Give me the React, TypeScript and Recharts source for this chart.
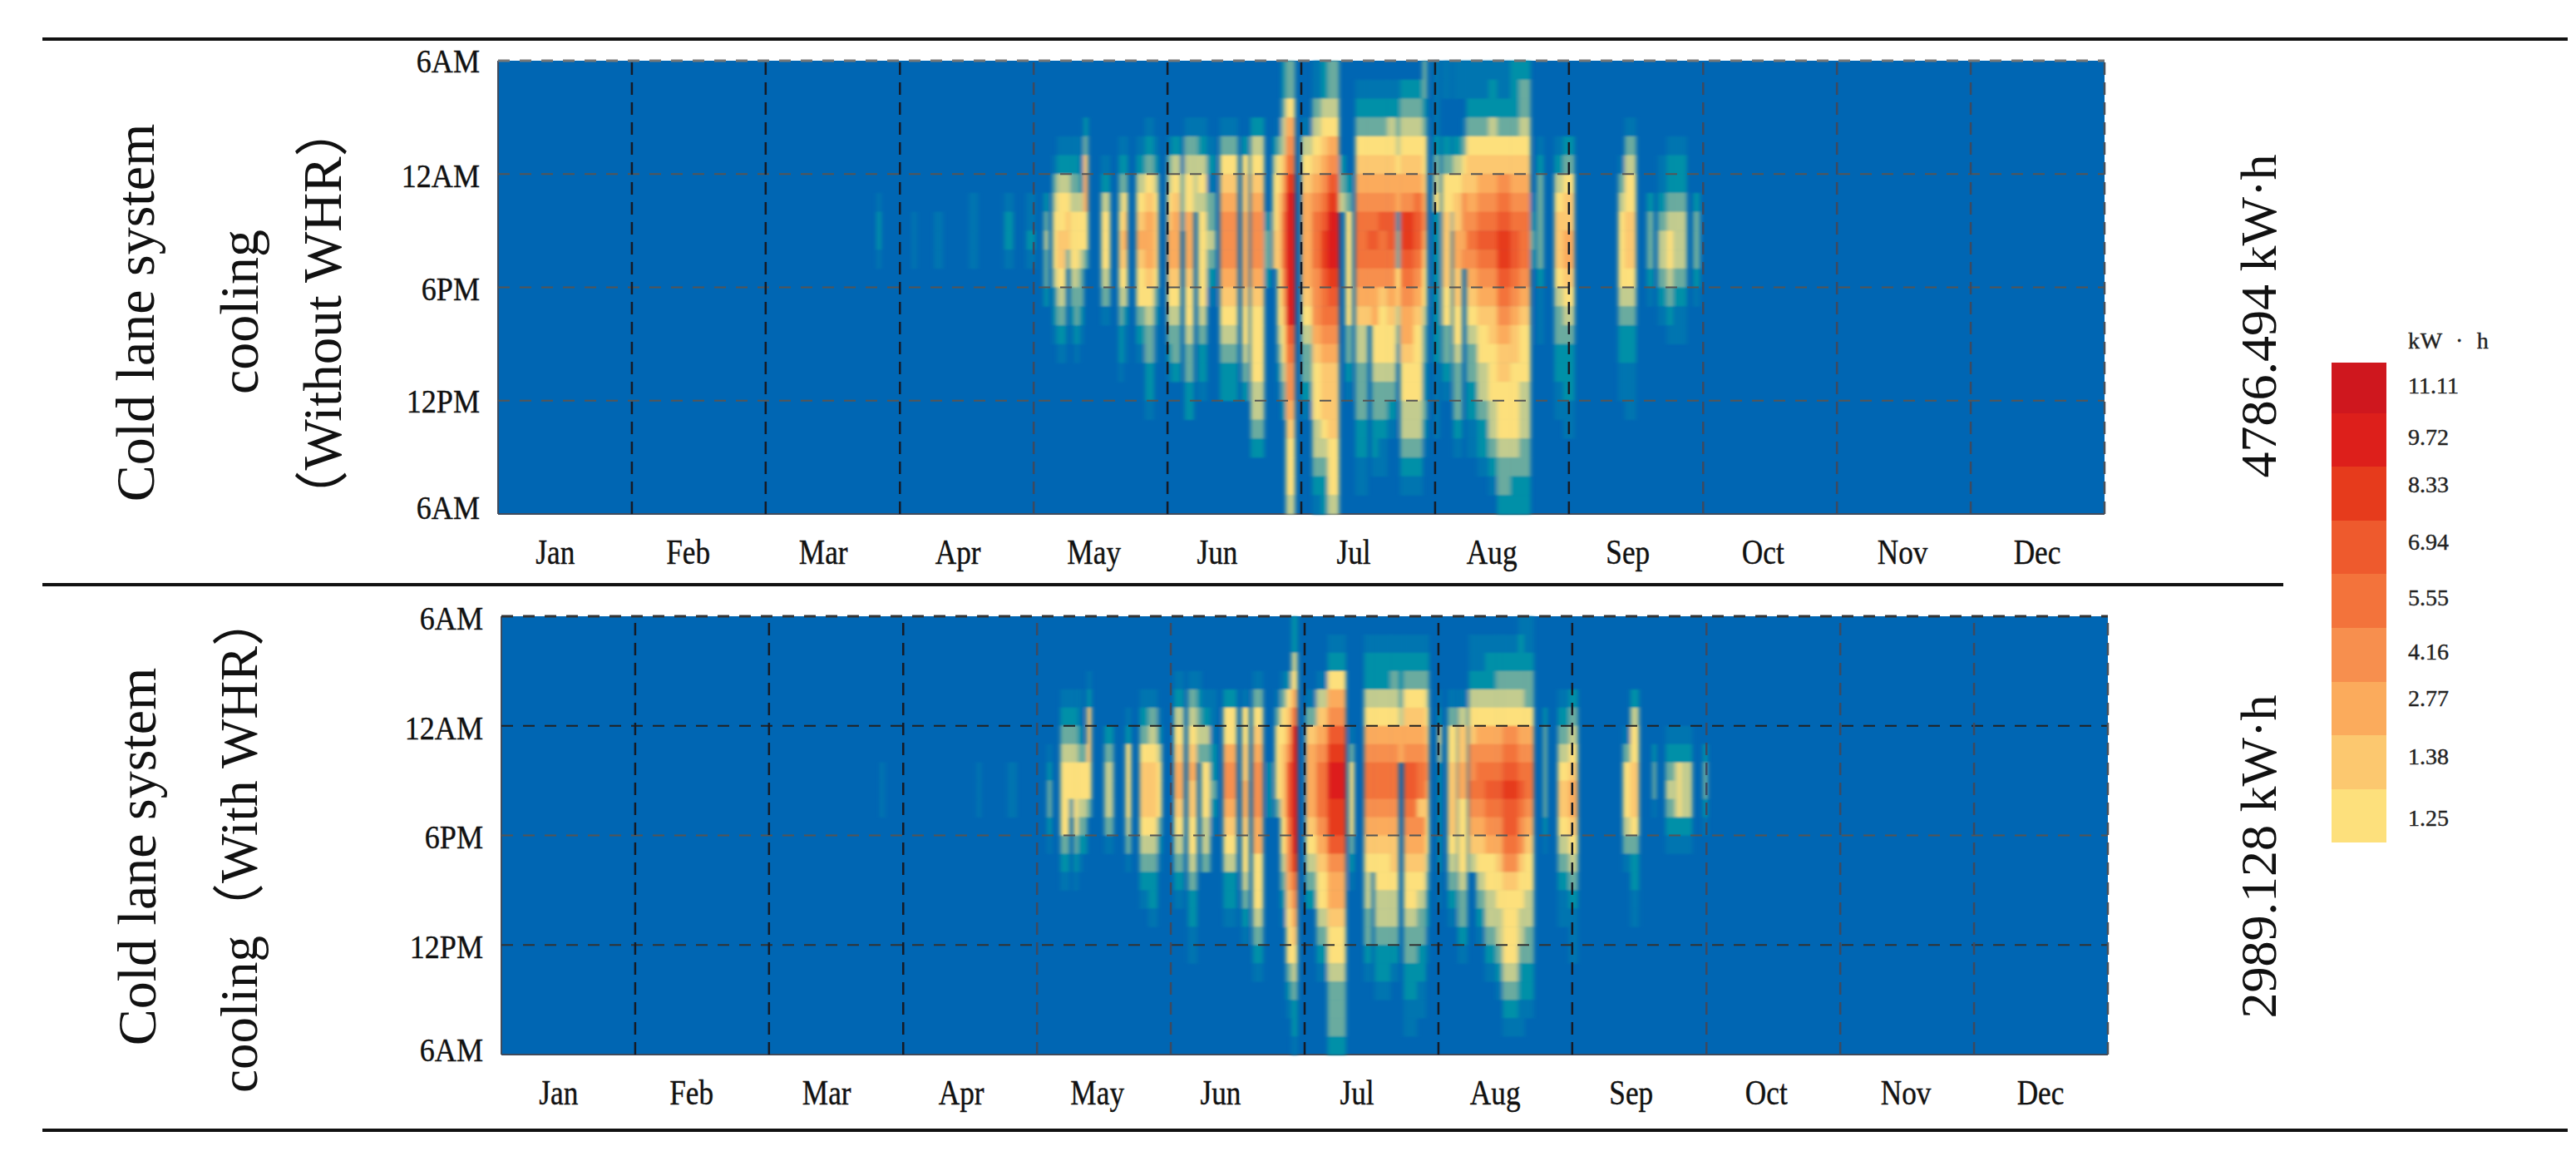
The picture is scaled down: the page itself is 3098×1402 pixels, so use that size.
import { ScatterChart, Scatter, XAxis, YAxis, ReferenceLine, ReferenceArea } from 'recharts';

const SERIF = '"Liberation Serif", "Noto Sans CJK SC", serif';

const MONTH_LABELS = ['Jan', 'Feb', 'Mar', 'Apr', 'May', 'Jun', 'Jul', 'Aug', 'Sep', 'Oct', 'Nov', 'Dec'];
const MONTH_LABEL_DAYS = [13, 43.2, 73.9, 104.5, 135.4, 163.4, 194.4, 225.8, 256.7, 287.4, 319.1, 349.7];
const MONTH_LINES = [30.4, 60.8, 91.3, 121.7, 152.1, 182.5, 212.9, 243.3, 273.8, 304.2, 334.6];
const HOUR_TICKS = [0, 6, 12, 18, 24];
const HOUR_LABELS = ['6AM', '12AM', '6PM', '12PM', '6AM'];

const LEGEND_VALUES = ['11.11', '9.72', '8.33', '6.94', '5.55', '4.16', '2.77', '1.38', '1.25'];
const LEGEND_COLORS = ['#cf171e', '#dd1f1b', '#e63b1c', '#ee5a2d', '#f3733b', '#f78f4e', '#fbab5c', '#fcc86f', '#fde07c'];

// level per hour, one character each: 0 = background, 1-4 low blue-green, 5-d legend bins
const LEVEL_COLORS: Record<string, string> = {
  '1': '#0575b0', '2': '#0090a8', '3': '#6aab9f', '4': '#c3cc8f', '5': '#fde07c', '6': '#fcc86f', '7': '#fbab5c',
  '8': '#f78f4e', '9': '#f3733b', a: '#ee5a2d', b: '#e63b1c', c: '#dd1f1b', d: '#cf171e',
};

const ZERO = '000000 000000 000000 000000';

// [first day of stripe, 24 hourly levels from 6AM]
const WITHOUT_WHR: [number, string][] = [
  [86, '000000 012210 000000 000000'], [87, ZERO],
  [94, '000000 001110 000000 000000'], [95, ZERO],
  [99, '000000 001110 000000 000000'], [101, ZERO],
  [107, '000000 011110 000000 000000'], [109, ZERO],
  [115, '000000 012210 000000 000000'], [117, ZERO],
  [120, '000000 011210 000000 000000'], [122, ZERO],
  [124, '000000 023433 200000 000000'], [125, ZERO],
  [126, '000001 345554 221000 000000'],
  [127, '000012 455665 432100 000000'],
  [129, '000012 456630 000000 000000'],
  [130, '000012 345554 321000 000000'],
  [131, '000012 345554 332100 000000'],
  [132, '000011 245543 321000 000000'],
  [133, '000236 775530 000000 000000'],
  [134, ZERO],
  [137, '000001 245554 310000 000000'], [139, ZERO],
  [141, '000012 345665 432210 000000'],
  [142, '000012 356765 421100 000000'], [143, ZERO],
  [145, '000012 456765 532100 000000'],
  [147, '000123 567776 543322 100000'],
  [149, '000012 456665 321100 000000'], [150, ZERO],
  [152, '000013 456776 543210 000000'],
  [153, '000024 567776 543320 000000'],
  [155, '000011 332000 000000 000000'],
  [156, '000134 557776 554332 200000'],
  [158, '000134 440000 000000 000000'],
  [159, '000124 545555 543221 000000'],
  [161, '000012 133432 100000 000000'], [163, ZERO],
  [164, '000135 678887 654322 000000'], [168, ZERO],
  [169, '000025 667777 655432 000000'], [170.5, ZERO],
  [171, '000245 678887 655554 432000'], [174, '000000 002332 000000 000000'], [175.5, ZERO],
  [176, '000024 555660 000000 000000'],
  [177, '000135 566665 554321 000000'],
  [178, '223446 789998 765543 200000'],
  [179, '335789 bccccc cca988 765554'], [181, ZERO],
  [182.5, '000145 677777 654332 100000'],
  [185, '113456 789998 887655 544321'],
  [187, '224567 89abba 998766 654322'],
  [188.5, '334578 abcccb a98766 665554'],
  [191, '000002 340000 000000 000000'],
  [192.5, '000000 235555 553321 000000'], [194, ZERO],
  [194.8, '012356 789998 764433 322110'],
  [197.5, '012356 789a98 760000 000000'],
  [198.5, '012356 789a98 775543 322100'],
  [200, '012356 78a998 655543 321100'],
  [202, '012456 78aa98 765543 210000'],
  [204, '012345 772335 643200 000000'],
  [205, '023456 78bba9 877655 443210'],
  [208, '023456 79aa98 765555 443210'],
  [210, '332355 678765 543322 321000'], [211, ZERO],
  [212.5, '111123 452222 222211 110000'], [214, ZERO],
  [214.5, '110023 556666 553321 000000'],
  [216.5, '000013 553000 000000 000000'],
  [217, '110024 566776 655433 321000'],
  [219, '110135 688780 000000 000000'],
  [220, '112356 678987 654332 211000'],
  [222.5, '112356 789a98 765544 322100'],
  [225, '122456 789a98 766555 443210'],
  [227, '112356 89abba 987665 554332'],
  [230, '222356 789aa9 876655 554322'],
  [232, '233456 789998 765554 443322'],
  [234.5, '000000 012320 000000 000000'], [235.5, ZERO],
  [236, '000012 333332 111000 000000'], [237.5, ZERO],
  [240, '000012 456665 433221 100000'],
  [242, '000023 566776 543222 110000'], [244.5, ZERO],
  [254.5, '000001 345555 432211 000000'],
  [256, '000134 556665 432211 100000'], [258.5, ZERO],
  [261, '000000 023332 100000 000000'], [262.5, ZERO],
  [263.5, '000001 123443 210000 000000'],
  [265.5, '000012 234554 321000 000000'],
  [267, '000012 234443 211000 000000'], [270, ZERO],
  [271.5, '000000 023332 100000 000000'], [273, ZERO],
];

const WITH_WHR: [number, string][] = [
  [86, '000000 001110 000000 000000'], [87, ZERO],
  [108, '000000 001110 000000 000000'], [109, ZERO],
  [115, '000000 001110 000000 000000'], [117, ZERO],
  [124, '000000 012332 100000 000000'], [125, ZERO],
  [127, '000012 345555 321000 000000'],
  [129, '000012 345520 000000 000000'],
  [130, '000012 345555 321000 000000'],
  [131, '000011 235543 210000 000000'],
  [132, '000000 035543 200000 000000'],
  [133, '000126 665530 000000 000000'], [134, ZERO],
  [137, '000000 234443 100000 000000'], [139, ZERO],
  [141.8, '000001 255554 310000 000000'], [143, ZERO],
  [145, '000012 356665 432100 000000'],
  [147, '000013 456665 432210 000000'],
  [149, '000001 245553 210000 000000'], [150, ZERO],
  [152.8, '000124 567765 432100 000000'], [155, ZERO],
  [156, '000134 567665 543221 100000'],
  [158, '000123 430000 000000 000000'],
  [159, '000012 435554 430000 000000'],
  [161, '000011 122321 000000 000000'], [162.5, ZERO],
  [164, '000025 578876 542210 000000'], [167, ZERO],
  [168.2, '000015 566776 554321 000000'], [169.8, ZERO],
  [170.7, '000135 678887 755543 210000'], [173, ZERO],
  [174, '000000 002220 000000 000000'], [175, ZERO],
  [175.8, '000013 555530 000000 000000'],
  [177, '000135 566665 543210 000000'],
  [178.3, '000256 78aaa9 887655 532100'],
  [179.5, '224579 cccccc cb9876 543221'], [180.8, ZERO],
  [182.7, '000013 677776 543200 000000'],
  [185.2, '000146 789998 765543 210000'],
  [187.7, '012578 abccbb a87765 543332'], [191.8, ZERO],
  [192.6, '000000 135555 321000 000000'], [193.7, ZERO],
  [196, '012245 789987 654433 210000'],
  [197.7, '012245 789987 650000 000000'],
  [198.4, '012245 789987 655443 221000'],
  [202, '012345 789987 665443 210000'],
  [203.8, '012234 770000 000000 000000'],
  [205, '012356 78aa98 765543 322110'],
  [208, '012356 789968 765433 221100'],
  [210, '012345 678765 543221 100000'], [210.7, ZERO],
  [212.8, '000012 542222 221100 000000'], [213.5, ZERO],
  [215, '000013 556666 543210 000000'], [217, ZERO],
  [217.3, '000014 667755 554332 100000'], [219.4, ZERO],
  [219.8, '011245 688987 640000 000000'],
  [221.5, '011245 789987 654321 000000'],
  [223.5, '012245 789a98 755443 210000'],
  [226, '012345 789a98 765544 321000'],
  [227.5, '012345 89abaa 986555 543210'],
  [231, '122345 789a98 865544 322110'],
  [232.4, '112335 789987 655443 322100'], [234.5, ZERO],
  [236.7, '000002 333332 100000 000000'], [237.5, ZERO],
  [240, '000012 345665 432110 000000'],
  [242.5, '000023 456776 543211 100000'], [244.5, ZERO],
  [254.8, '000000 135554 310000 000000'],
  [256.5, '000024 556665 322110 000000'], [258.4, ZERO],
  [261.5, '000000 023310 000000 000000'], [262.3, ZERO],
  [264.5, '000000 123432 100000 000000'],
  [266.5, '000000 124442 100000 000000'],
  [267.3, '000000 125552 100000 000000'],
  [268, '000000 124442 100000 000000'], [270.5, ZERO],
  [273, '000000 023321 000000 000000'], [274, ZERO],
];

const PLOT_W = 1932;
const PX_PER_DAY = PLOT_W / 365;

function toCells(stripes: [number, string][]) {
  const cells: { day: number; hour: number; span: number; level: string }[] = [];
  stripes.forEach(([day, levels], i) => {
    if (i === stripes.length - 1) return;
    const span = stripes[i + 1][0] - day;
    levels.replace(/ /g, '').split('').forEach((level, hour) => {
      if (level !== '0') cells.push({ day, hour, span, level });
    });
  });
  return cells;
}

function HeatPanel({ stripes, left, top, plotH, id, vLines, hLines, tickDy, topLine }: any) {
  const rowH = plotH / 24;
  const HeatCell = (p: any) => (
    <rect
      x={p.cx}
      y={p.cy}
      width={p.payload.span * PX_PER_DAY + 0.5}
      height={rowH + 0.5}
      fill={LEVEL_COLORS[p.payload.level]}
    />
  );
  const HourTick = ({ x, y, payload, index }: any) => (
    <text
      transform={`translate(${x - 14},${y + tickDy[index]}) scale(0.88,1)`}
      textAnchor="end"
      dominantBaseline="central"
      fontFamily={SERIF}
      fontSize={41}
      fill="#111"
      stroke="#111"
      strokeWidth={0.4}
    >
      {HOUR_LABELS[HOUR_TICKS.indexOf(payload.value)]}
    </text>
  );
  const MonthTick = ({ x, y, payload }: any) => (
    <text
      transform={`translate(${x},${y + 52}) scale(0.84,1)`}
      textAnchor="middle"
      fontFamily={SERIF}
      fontSize={42}
      fill="#111"
      stroke="#111"
      strokeWidth={0.4}
    >
      {MONTH_LABELS[MONTH_LABEL_DAYS.indexOf(payload.value)]}
    </text>
  );
  return (
    <div style={{ position: 'absolute', left: left - 140, top: top - 30 }}>
      <ScatterChart
        width={PLOT_W + 190}
        height={plotH + 110}
        margin={{ top: 30, right: 50, bottom: 0, left: 0 }}
        className={id}
      >
        <XAxis
          type="number"
          dataKey="day"
          domain={[0, 365]}
          ticks={MONTH_LABEL_DAYS}
          interval={0}
          height={80}
          tick={<MonthTick />}
          tickLine={false}
          stroke="#3f4a5c"
          strokeWidth={2}
        />
        <YAxis
          type="number"
          dataKey="hour"
          domain={[0, 24]}
          ticks={HOUR_TICKS}
          interval={0}
          reversed
          width={140}
          tick={<HourTick />}
          tickLine={false}
          stroke="#3f4a5c"
          strokeWidth={2}
        />
        <ReferenceArea x1={0} x2={365} y1={0} y2={24} fill="#0066b3" fillOpacity={1} stroke="none" />
        <Scatter data={toCells(stripes)} shape={HeatCell} isAnimationActive={false} />
        <ReferenceLine y={0} stroke={topLine} strokeWidth={3} strokeDasharray="14 12" zIndex={700} />
        {HOUR_TICKS.slice(1, 4).map((h, i) => (
          <ReferenceLine key={h} y={h} stroke={hLines[i]} strokeWidth={2} strokeDasharray="14 12" zIndex={700} />
        ))}
        {MONTH_LINES.map((d, i) => (
          <ReferenceLine key={d} x={d} stroke={vLines[i]} strokeWidth={2.5} strokeDasharray="15 9" zIndex={700} />
        ))}
        <ReferenceLine x={365} stroke="#4a5058" strokeWidth={2.5} strokeDasharray="15 9" zIndex={700} />
      </ScatterChart>
    </div>
  );
}

const Rotated = ({ x, y, size, children }: any) => (
  <div
    style={{
      position: 'absolute',
      left: x,
      top: y,
      transform: 'translate(-50%, -50%) rotate(-90deg)',
      whiteSpace: 'nowrap',
      fontFamily: SERIF,
      fontSize: size,
      color: '#111',
    }}
  >
    {children}
  </div>
);

const Rule = ({ top, right }: any) => (
  <div style={{ position: 'absolute', left: 51, top, width: right - 51, height: 4, background: '#111' }} />
);

const LEGEND_EDGES = [436, 497, 561, 626, 690, 755, 820, 884, 949, 1013];
const LEGEND_TEXT_Y = [464, 526, 583, 652, 719, 784, 840, 910, 984];

export default function App() {
  const grey = '#3d4a60';
  const dark = '#151b26';
  return (
    <div style={{ position: 'absolute', left: 0, top: 0, width: 3098, height: 1402, background: '#fff', overflow: 'hidden' }}>
      <style>{`.heat1 .recharts-scatter, .heat2 .recharts-scatter { filter: url(#heatBlur); }`}</style>
      <svg width={0} height={0} style={{ position: 'absolute' }}>
        <filter id="heatBlur" x="-2%" y="-2%" width="104%" height="104%">
          <feGaussianBlur stdDeviation="2.6 1" />
        </filter>
      </svg>

      <Rule top={45} right={3088} />
      <Rule top={701} right={2746} />
      <Rule top={1357} right={3088} />

      <Rotated x={163} y={376} size={66}>Cold lane system</Rotated>
      <Rotated x={288} y={375} size={66}>cooling</Rotated>
      <Rotated x={382} y={377} size={65}>（Without WHR）</Rotated>
      <Rotated x={165} y={1030} size={66}>Cold lane system</Rotated>
      <Rotated x={281} y={1014} size={63}>cooling（With WHR）</Rotated>
      <Rotated x={2716} y={380} size={62}>4786.494 kW·h</Rotated>
      <Rotated x={2716} y={1030} size={62}>2989.128 kW·h</Rotated>

      <HeatPanel
        id="heat1"
        stripes={WITHOUT_WHR}
        left={599}
        top={73}
        plotH={545}
        tickDy={[0, 2, 2, 0, -8]}
        topLine="#777"
        hLines={['#555', '#555', '#555']}
        vLines={[dark, dark, dark, grey, dark, dark, dark, dark, grey, grey, grey]}
      />
      <HeatPanel
        id="heat2"
        stripes={WITH_WHR}
        left={603}
        top={741}
        plotH={527}
        tickDy={[2, 2, 2, 2, -6]}
        topLine="#333"
        hLines={['#222', '#555', '#333']}
        vLines={[dark, dark, dark, grey, grey, dark, dark, dark, grey, grey, grey]}
      />

      {LEGEND_COLORS.map((c, i) => (
        <div
          key={c}
          style={{
            position: 'absolute',
            left: 2804,
            top: LEGEND_EDGES[i],
            width: 66,
            height: LEGEND_EDGES[i + 1] - LEGEND_EDGES[i],
            background: c,
          }}
        />
      ))}
      <div style={{ position: 'absolute', left: 2896, top: 394, fontFamily: SERIF, fontSize: 28, letterSpacing: 0.8, WebkitTextStroke: '0.4px #222', color: '#222', whiteSpace: 'pre' }}>
        {'kW  ·  h'}
      </div>
      {LEGEND_VALUES.map((v, i) => (
        <div
          key={i}
          style={{ position: 'absolute', left: 2896, top: LEGEND_TEXT_Y[i] - 16, fontFamily: SERIF, fontSize: 28, WebkitTextStroke: '0.4px #222', color: '#222' }}
        >
          {v}
        </div>
      ))}
    </div>
  );
}
